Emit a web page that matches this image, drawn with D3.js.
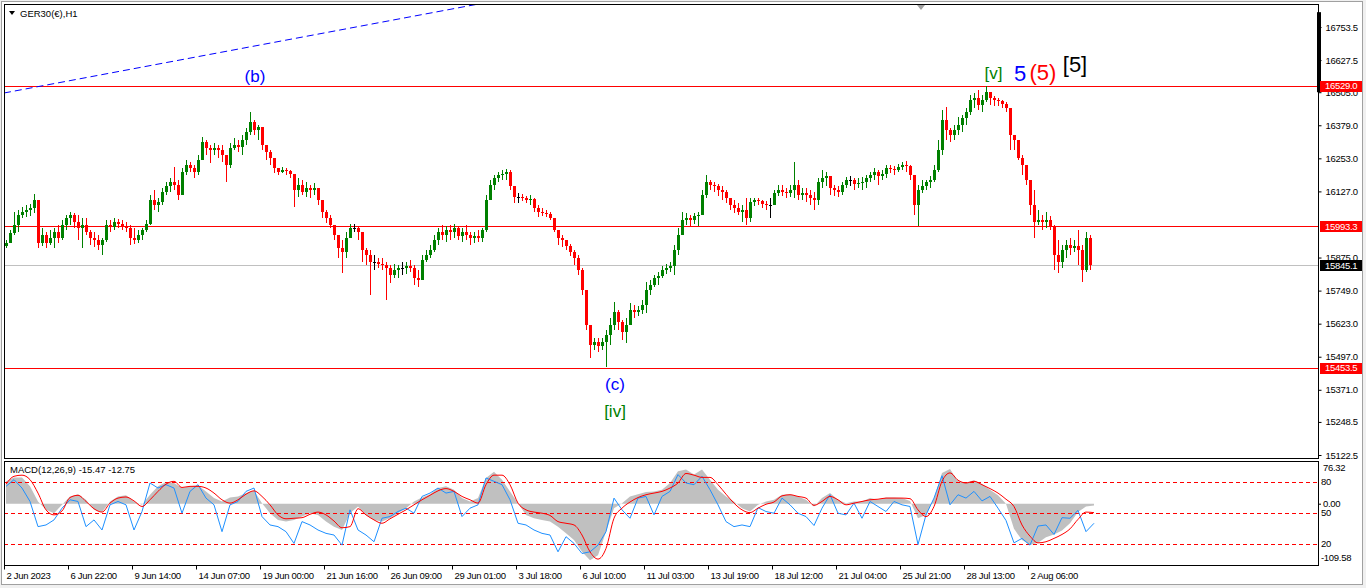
<!DOCTYPE html>
<html>
<head>
<meta charset="utf-8">
<script src="https://cdn.jsdelivr.net/npm/d3@7"></script>
<style>
  html, body { margin: 0; padding: 0; background: #f0f0f0; overflow: hidden; }
  svg { display: block; }
  text { font-family: "Liberation Sans", Arial, sans-serif; }
</style>
</head>
<body>
<svg id="chart" width="1366" height="588"></svg>
<script>
// ---------- data ----------
const symbolTitle = "GER30(€),H1";
const macdTitle = "MACD(12,26,9) -15.47 -12.75";

// price bars (one per 4 chart hours), open = previous close
const firstOpen = 15920;
const highs = [
  15942,15980,16049,16056,16068,16075,16079,16117,16094,15988,
  15972,15980,15988,15999,16018,16037,16049,16045,16037,16026,
  16026,15980,15972,15961,15949,16018,16018,16026,16022,16018,
  16011,15999,15988,15980,15988,16018,16113,16132,16102,16140,
  16163,16178,16220,16171,16216,16247,16239,16228,16266,16334,
  16323,16304,16311,16304,16304,16266,16311,16330,16323,16342,
  16369,16429,16399,16380,16361,16304,16285,16254,16216,16220,
  16216,16209,16190,16178,16171,16163,16151,16159,16132,16075,
  16056,16037,15999,15961,15942,15972,16003,16003,15995,15942,
  15911,15904,15885,15873,15873,15858,15846,15850,15846,15858,
  15858,15866,15846,15827,15885,15904,15923,15961,15988,15999,
  15995,15999,16003,15995,15988,15999,15972,15972,15980,15988,
  16113,16171,16190,16201,16209,16213,16209,16140,16121,16117,
  16110,16113,16102,16075,16064,16056,16049,16026,15980,15961,
  15942,15927,15904,15885,15835,15751,15618,15568,15568,15568,
  15599,15645,15706,15675,15637,15645,15702,15694,15691,15713,
  15782,15789,15808,15820,15843,15850,15858,15923,15988,16049,
  16045,16037,16045,16049,16132,16190,16171,16163,16155,16148,
  16132,16102,16094,16083,16075,16102,16102,16102,16102,16094,
  16090,16102,16132,16151,16151,16140,16151,16239,16171,16140,
  16140,16132,16125,16178,16209,16201,16171,16151,16148,16163,
  16182,16186,16178,16178,16182,16190,16201,16216,16209,16209,
  16228,16228,16224,16232,16239,16243,16228,16190,16151,16171,
  16171,16186,16228,16323,16437,16448,16368,16380,16410,16418,
  16445,16494,16502,16513,16494,16529,16506,16490,16483,16475,
  16467,16445,16342,16323,16266,16228,16151,16132,16056,16037,
  16049,16034,15999,15942,15923,15942,15949,15942,15980,15923,
  15972,15961
];
const lows = [
  15911,15934,15961,15972,16026,16030,16034,16045,15911,15919,
  15911,15923,15911,15930,15942,15980,15999,15988,15942,15911,
  15961,15923,15915,15904,15885,15934,15972,15980,15988,15980,
  15972,15923,15927,15930,15942,15972,15999,16056,16049,16075,
  16113,16125,16132,16094,16113,16190,16201,16178,16190,16247,
  16266,16235,16266,16254,16239,16163,16216,16285,16277,16266,
  16304,16342,16342,16323,16285,16247,16228,16197,16190,16197,
  16190,16178,16068,16106,16113,16106,16102,16113,16075,16026,
  16007,15988,15942,15873,15816,15873,15961,15972,15942,15858,
  15846,15732,15827,15835,15827,15713,15778,15797,15797,15808,
  15812,15820,15770,15762,15789,15858,15873,15896,15923,15942,
  15934,15942,15949,15942,15934,15942,15923,15930,15934,15934,
  15972,16094,16132,16163,16171,16171,16132,16083,16083,16090,
  16083,16075,16049,16030,16034,16030,16018,15972,15923,15915,
  15904,15881,15846,15808,15732,15599,15492,15523,15515,15523,
  15458,15542,15599,15599,15561,15549,15618,15645,15652,15660,
  15664,15732,15762,15770,15797,15812,15820,15808,15885,15961,
  15999,15995,16003,15995,16037,16102,16132,16125,16110,16094,
  16083,16056,16045,16037,16011,15999,16011,16071,16075,16064,
  16056,16026,16075,16110,16110,16102,16106,16102,16094,16094,
  16087,16075,16056,16075,16140,16148,16113,16110,16106,16113,
  16140,16148,16132,16140,16132,16140,16163,16171,16151,16171,
  16178,16197,16190,16201,16209,16201,16171,16037,15995,16121,
  16132,16140,16163,16201,16266,16323,16315,16323,16342,16353,
  16380,16418,16445,16437,16429,16467,16456,16452,16452,16445,
  16429,16285,16285,16247,16190,16151,16037,15949,15999,15980,
  15988,15980,15827,15816,15835,15873,15885,15896,15846,15781,
  15820,15827
];
const closes = [
  15930,15968,15999,16037,16049,16056,16064,16094,15930,15961,
  15930,15949,15972,15949,15999,16026,16037,16011,15988,15999,
  15972,15949,15942,15923,15942,15999,15991,16011,16003,15995,
  15988,15949,15942,15961,15980,16003,16094,16075,16087,16125,
  16148,16163,16151,16113,16201,16228,16216,16201,16247,16315,
  16292,16285,16292,16285,16266,16228,16292,16304,16296,16323,
  16353,16391,16361,16372,16304,16277,16254,16216,16201,16209,
  16205,16194,16132,16151,16125,16140,16132,16140,16094,16049,
  16026,15999,15961,15911,15896,15949,15988,15988,15972,15904,
  15885,15858,15858,15850,15846,15835,15808,15827,15835,15835,
  15842,15835,15797,15789,15866,15885,15904,15942,15972,15961,
  15980,15972,15988,15957,15972,15961,15949,15957,15949,15980,
  16094,16151,16178,16190,16194,16201,16148,16106,16106,16102,
  16094,16098,16064,16049,16045,16041,16026,15980,15949,15942,
  15919,15896,15873,15827,15751,15618,15542,15553,15538,15553,
  15580,15618,15668,15630,15591,15618,15675,15668,15675,15694,
  15751,15770,15797,15805,15827,15835,15842,15904,15961,16018,
  16026,16018,16034,16037,16113,16163,16151,16148,16132,16125,
  16102,16075,16064,16049,16056,16026,16087,16094,16090,16079,
  16075,16075,16121,16132,16125,16121,16132,16151,16113,16121,
  16113,16102,16094,16163,16178,16186,16140,16132,16125,16151,
  16171,16171,16155,16159,16163,16178,16190,16201,16186,16194,
  16216,16213,16209,16220,16228,16224,16190,16075,16132,16148,
  16163,16171,16209,16285,16399,16361,16342,16361,16380,16406,
  16429,16475,16483,16456,16475,16506,16483,16475,16471,16460,
  16445,16342,16323,16254,16228,16171,16075,16011,16018,16011,
  16018,15995,15885,15858,15904,15923,15911,15919,15904,15827,
  15949,15845
];

const priceTicks = [16753.5, 16627.5, 16505.0, 16379.0, 16253.0, 16127.0,
                    15875.0, 15749.0, 15623.0, 15497.0, 15371.0, 15248.5, 15122.5];
const levelPrices = [16529.0, 15993.3, 15453.5];
const bidPrice = 15845.1;

// dashed trend line: two anchors (bar, price)
const trendBars = [-0.5, 130];
const trendPrices = [16502, 16875];

// wave count labels, anchored at (bar, price)
const waveText  = ["(b)", "(c)", "[iv]", "[v]", "5", "(5)", "[5]"];
const waveBar   = [62.25, 152.25, 152.25, 246.9, 253.5, 259.25, 267.25];
const wavePrice = [16544, 15370, 15267, 16555, 16548, 16552, 16582];

// MACD window, one point per 8 chart hours
const macdHist = [
  40,47,47,31,4,-11,-17,-2,13,17,
  7,-11,-15,4,13,15,4,-2,16,31,
  39,37,28,31,33,22,10,4,11,13,
  19,23,1,-17,-29,-32,-29,-23,-17,-20,
  -32,-41,-47,-17,-5,-20,-29,-32,-26,-17,
  -8,4,11,17,28,31,25,10,4,10,
  46,57,43,22,1,-20,-26,-29,-32,-41,
  -53,-65,-86,-101,-92,-50,-8,1,13,17,
  21,22,25,37,58,61,52,61,43,25,
  13,4,-8,-14,-2,4,7,16,17,13,
  7,-5,10,19,7,1,4,4,10,7,
  11,11,10,5,-26,-20,10,55,62,40,
  38,42,35,25,15,0,-45,-65,-74,-70,
  -60,-55,-48,-35,-15,-5,-3
];
const macdSignal = [
  35,49,51,43,19,-11,-20,-13,11,15,
  4,-9,-15,1,10,12,5,-5,7,22,
  35,40,29,31,31,28,19,7,1,7,
  17,23,13,-2,-20,-27,-26,-25,-19,-15,
  -20,-31,-43,-41,-9,-20,-29,-35,-27,-19,
  -11,-2,7,15,23,27,22,13,7,1,
  34,51,51,34,1,-11,-15,-17,-21,-32,
  -35,-38,-56,-86,-99,-80,-26,-8,3,11,
  16,19,22,28,37,54,51,47,47,34,
  17,1,-11,-16,-8,-1,3,14,16,13,
  10,-3,4,13,7,-2,1,4,7,8,
  10,10,10,9,-11,-23,-5,40,55,42,
  37,40,34,27,19,8,-5,-38,-58,-70,
  -68,-62,-55,-45,-28,-15,-16
];
const macdFast = [
  31,43,28,4,-41,-38,-29,-8,7,4,
  -41,-29,-47,-2,4,-2,-47,-14,37,28,
  34,28,-17,22,34,10,-2,-50,-2,4,
  22,28,-23,-38,-41,-50,-71,-32,-38,-47,
  -53,-56,-74,-11,-47,-56,-68,-26,-23,-14,
  -8,-17,13,19,28,19,22,-23,-8,-2,
  46,40,34,7,-35,-38,-47,-53,-56,-86,
  -59,-71,-89,-86,-74,-50,10,-11,-26,10,
  13,-20,13,22,52,37,34,49,25,-2,
  -32,-41,-38,-41,-7,-14,-17,10,-2,-17,
  -23,-39,-8,16,-17,-20,1,-26,4,-5,
  -14,4,-2,-5,-73,-20,10,50,-2,16,
  10,22,5,13,-8,-30,-70,-62,-74,-40,
  -38,-55,-25,-26,-12,-50,-35
];
const macdMax = 76.32, macdMin = -109.58;
const levelValues = [80, 50, 20];

const dateLabels = ["2 Jun 2023", "6 Jun 22:00", "9 Jun 14:00", "14 Jun 07:00", "19 Jun 00:00",
  "21 Jun 16:00", "26 Jun 09:00", "29 Jun 01:00", "3 Jul 18:00", "6 Jul 10:00", "11 Jul 03:00",
  "13 Jul 19:00", "18 Jul 12:00", "21 Jul 04:00", "25 Jul 21:00", "28 Jul 13:00", "2 Aug 06:00"];
const dateBars = [-0.5, 15.5, 31.5, 47.5, 63.5, 79.5, 95.5, 111.5, 127.5, 143.5, 159.5,
  175.5, 191.5, 207.5, 223.5, 239.5, 255.5];

// ---------- layout ----------
const W = 1366, H = 588;
const L = 4, R = 1318, mainT = 4, mainB = 458, macdT = 461, macdB = 565;
const axisFont = "'Liberation Sans', Arial, sans-serif";
const waveFont = "'DejaVu Sans', Verdana, sans-serif";
const waveStyle = {
  "(b)": ["#0000ff", 17], "(c)": ["#0000ff", 17], "[iv]": ["#008000", 17], "[v]": ["#008000", 17],
  "5": ["#0000ff", 22], "(5)": ["#ff0000", 22], "[5]": ["#000000", 22]
};

const x = d3.scaleLinear().domain([0, closes.length - 1]).range([6, 6 + 4 * (closes.length - 1)]);
const y = d3.scaleLinear().domain([15122.5, 16753.5]).range([455, 27]);
const yM = d3.scaleLinear().domain([macdMin, macdMax]).range([macdB, macdT]);
const yLv = d3.scaleLinear().domain([0, 100]).range([macdB, macdT]);

const svg = d3.select("#chart");
svg.append("rect").attr("width", W).attr("height", H).attr("fill", "#f0f0f0");
svg.append("rect").attr("x", 1.5).attr("y", 1.5).attr("width", 1361).attr("height", 583)
  .attr("fill", "#fff").attr("stroke", "#a0a0a0");

const defs = svg.append("defs");
defs.append("clipPath").attr("id", "clipMain").append("rect")
  .attr("x", L + 1).attr("y", mainT + 1).attr("width", R - L - 1).attr("height", mainB - mainT - 1);
defs.append("clipPath").attr("id", "clipMacd").append("rect")
  .attr("x", L + 1).attr("y", macdT + 1).attr("width", R - L - 1).attr("height", macdB - macdT - 1);

// ---------- main window ----------
const main = svg.append("g").attr("clip-path", "url(#clipMain)");

main.selectAll(".lvl").data(levelPrices).enter().append("line")
  .attr("x1", L).attr("x2", R)
  .attr("y1", d => Math.round(y(d)) + 0.5).attr("y2", d => Math.round(y(d)) + 0.5)
  .attr("stroke", "#ff0000").attr("stroke-width", 1);

main.append("line").attr("x1", L).attr("x2", R)
  .attr("y1", Math.round(y(bidPrice)) + 0.5).attr("y2", Math.round(y(bidPrice)) + 0.5)
  .attr("stroke", "#c0c0c0");

main.append("path")
  .datum(trendBars.map((b, i) => [b, trendPrices[i]]))
  .attr("d", d3.line().x(d => x(d[0])).y(d => y(d[1])))
  .attr("fill", "none").attr("stroke", "#0000ff").attr("stroke-width", 1)
  .attr("stroke-dasharray", "7,4");

const bars = closes.map((c, i) => ({ i, o: i ? closes[i - 1] : firstOpen, h: highs[i], l: lows[i], c }));
const colorOf = d => d.c > d.o ? "#008000" : (d.c < d.o ? "#ff0000" : "#000000");

const candles = main.append("g").attr("shape-rendering", "crispEdges");
candles.selectAll(".wick").data(bars).enter().append("line")
  .attr("x1", d => Math.round(x(d.i)) + 0.5).attr("x2", d => Math.round(x(d.i)) + 0.5)
  .attr("y1", d => y(Math.max(d.h, d.o, d.c))).attr("y2", d => y(Math.min(d.l, d.o, d.c)))
  .attr("stroke", colorOf);
candles.selectAll(".body").data(bars).enter().append("rect")
  .attr("x", d => Math.round(x(d.i)) - 1).attr("width", 3)
  .attr("y", d => y(Math.max(d.o, d.c)))
  .attr("height", d => Math.max(1, Math.abs(y(d.o) - y(d.c))))
  .attr("fill", colorOf);

// chart shift marker
const sx = Math.round(x(228.75));
svg.append("path").attr("d", `M${sx - 4},${mainT + 1}L${sx + 4},${mainT + 1}L${sx},${mainT + 6}Z`)
  .attr("fill", "#a0a0a0");

// wave labels
svg.selectAll(".wave").data(waveText).enter().append("text")
  .attr("x", (d, i) => x(waveBar[i])).attr("y", (d, i) => y(wavePrice[i]))
  .attr("text-anchor", "middle")
  .attr("font-family", waveFont)
  .attr("font-size", d => waveStyle[d][1])
  .attr("fill", d => waveStyle[d][0])
  .text(d => d);

// title
svg.append("path").attr("d", "M9,11L15,11L12,15Z").attr("fill", "#000");
svg.append("text").attr("x", 20).attr("y", 17).attr("font-size", 9.5).attr("fill", "#000")
  .attr("font-family", axisFont).text(symbolTitle);

// ---------- MACD window ----------
const macd = svg.append("g").attr("clip-path", "url(#clipMacd)");
const mx = (d, j) => x(2 * j);

macd.append("path").datum(macdHist)
  .attr("d", d3.area().x(mx).y0(yM(0)).y1(d => yM(d)))
  .attr("fill", "#c0c0c0");

macd.selectAll(".mlvl").data(levelValues).enter().append("line")
  .attr("x1", L).attr("x2", R)
  .attr("y1", d => Math.round(yLv(d)) + 0.5).attr("y2", d => Math.round(yLv(d)) + 0.5)
  .attr("stroke", "#ff0000").attr("stroke-dasharray", "4,3");

macd.append("path").datum(macdFast)
  .attr("d", d3.line().x(mx).y(d => yM(d)))
  .attr("fill", "none").attr("stroke", "#1e90ff").attr("stroke-width", 1);

macd.append("path").datum(macdSignal)
  .attr("d", d3.line().x(mx).y(d => yM(d)).curve(d3.curveMonotoneX))
  .attr("fill", "none").attr("stroke", "#ff0000").attr("stroke-width", 1);

svg.append("text").attr("x", 10).attr("y", 473).attr("font-size", 9.5).attr("fill", "#000")
  .attr("font-family", axisFont).text(macdTitle);

// ---------- frames ----------
const frames = svg.append("g").attr("fill", "none").attr("stroke", "#000").attr("shape-rendering", "crispEdges");
frames.append("rect").attr("x", L + 0.5).attr("y", mainT + 0.5).attr("width", R - L).attr("height", mainB - mainT);
frames.append("rect").attr("x", L + 0.5).attr("y", macdT + 0.5).attr("width", R - L).attr("height", macdB - macdT);
svg.append("rect").attr("x", R - 1).attr("y", y(16810)).attr("width", 4).attr("height", y(16505) - y(16810))
  .attr("fill", "#000");

// ---------- axes ----------
function styleAxis(g) {
  g.select(".domain").remove();
  g.attr("font-family", axisFont).attr("font-size", 9.5);
  g.selectAll("text").attr("fill", "#000").style("letter-spacing", "-0.3px");
  g.selectAll("line").attr("stroke", "#000");
}

svg.append("g").attr("transform", `translate(${R + 0.5},0)`)
  .call(d3.axisRight(y).tickValues(priceTicks).tickSize(3).tickPadding(4).tickFormat(d3.format(".1f")))
  .call(styleAxis);

// price tags
const tags = [...levelPrices.map(v => [v, "#ff0000"]), [bidPrice, "#000000"]];
const tagG = svg.append("g");
tagG.selectAll("rect").data(tags).enter().append("rect")
  .attr("x", R + 2).attr("width", 42).attr("y", d => Math.round(y(d[0])) - 5).attr("height", 11)
  .attr("fill", d => d[1]).attr("shape-rendering", "crispEdges");
tagG.selectAll("text").data(tags).enter().append("text")
  .attr("x", R + 7).attr("y", d => y(d[0])).attr("dy", "0.34em")
  .attr("font-size", 9.5).attr("font-family", axisFont).attr("fill", "#fff")
  .style("letter-spacing", "-0.3px")
  .text(d => d[0].toFixed(1));

// MACD scale
const mScale = svg.append("g").attr("font-family", axisFont).attr("font-size", 9.5);
mScale.append("text").attr("x", R + 5).attr("y", yM(macdMax) + 7).attr("dy", "0.34em").text(macdMax.toFixed(2));
mScale.append("text").attr("x", R + 5).attr("y", yM(0)).attr("dy", "0.34em").text((0).toFixed(2));
mScale.append("text").attr("x", R + 3).attr("y", yM(macdMin) - 7).attr("dy", "0.34em").text(macdMin.toFixed(2));
mScale.selectAll(".lv").data(levelValues).enter().append("text")
  .attr("x", R + 3).attr("y", d => yLv(d)).attr("dy", "0.34em").text(d => d);
mScale.selectAll("text").style("letter-spacing", "-0.3px");
mScale.append("line").attr("x1", R).attr("x2", R + 3).attr("y1", yM(0) + 0.5).attr("y2", yM(0) + 0.5).attr("stroke", "#000");

// time axis
svg.append("g").attr("transform", `translate(0,${macdB + 0.5})`)
  .call(d3.axisBottom(x).tickValues(dateBars).tickSize(4).tickPadding(3)
    .tickFormat((d, i) => dateLabels[i]))
  .call(styleAxis)
  .call(g => g.selectAll("text").attr("text-anchor", "start").attr("dx", 2));
</script>
</body>
</html>
